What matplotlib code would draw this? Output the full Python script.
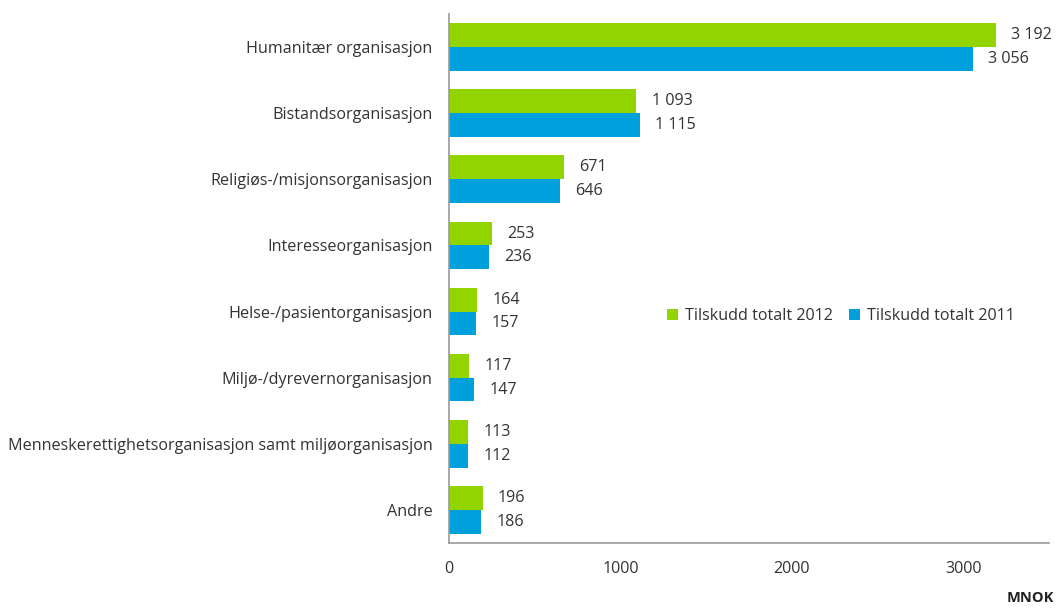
import matplotlib.pyplot as plt
import numpy as np

plt.rcParams['font.family'] = ['Open Sans', 'DejaVu Sans']

categories = ['Humanitær organisasjon', 'Bistandsorganisasjon', 'Religiøs-/misjonsorganisasjon',
              'Interesseorganisasjon', 'Helse-/pasientorganisasjon', 'Miljø-/dyrevernorganisasjon',
              'Menneskerettighetsorganisasjon samt miljøorganisasjon', 'Andre']
tilskudd_2012 = [3192, 1093, 671, 253, 164, 117, 113, 196]
tilskudd_2011 = [3056, 1115, 646, 236, 157, 147, 112, 186]

green = '#92d400'
blue = '#00a0dc'
txt = '#333333'
fs = 11.6

fig = plt.figure(figsize=(10.58, 6.16), dpi=100)
ax = fig.add_axes([0.4244, 0.1185, 0.5671, 0.8588])

y = np.arange(len(categories))
h = 0.36
b1 = ax.barh(y - h/2, tilskudd_2012, height=h, color=green, label='Tilskudd totalt 2012')
b2 = ax.barh(y + h/2, tilskudd_2011, height=h, color=blue, label='Tilskudd totalt 2011')

def fmt(v):
    return f'{v:,}'.replace(',', ' ')

for bars, vals in [(b1, tilskudd_2012), (b2, tilskudd_2011)]:
    for bar, v in zip(bars, vals):
        ax.annotate(fmt(v), (bar.get_width(), bar.get_y() + bar.get_height()/2),
                    xytext=(11, 0), textcoords='offset points', va='center', ha='left',
                    fontsize=fs, color=txt)

ax.set_xlim(0, 3500)
ax.set_ylim(len(categories) - 0.5, -0.5)
ax.set_yticks(y)
ax.set_yticklabels(categories, fontsize=fs, color=txt)
ax.set_xticks([0, 1000, 2000, 3000])
ax.tick_params(axis='x', length=0, pad=13, labelsize=fs, labelcolor=txt)
ax.tick_params(axis='y', length=0, pad=12)
for s in ['top', 'right']:
    ax.spines[s].set_visible(False)
for s in ['left', 'bottom']:
    ax.spines[s].set_color('#999999')
    ax.spines[s].set_linewidth(1.2)

ax.legend(loc='center', bbox_to_anchor=(0.653, 0.429), ncol=2, frameon=False, fontsize=fs,
          handlelength=0.7, handleheight=0.7, handletextpad=0.4, columnspacing=1.0,
          labelcolor=txt)

fig.text(0.996, 0.018, 'MNOK', ha='right', va='bottom', fontsize=10.5, fontweight='bold', color='#222222')

fig.savefig('out.png', dpi=100)
